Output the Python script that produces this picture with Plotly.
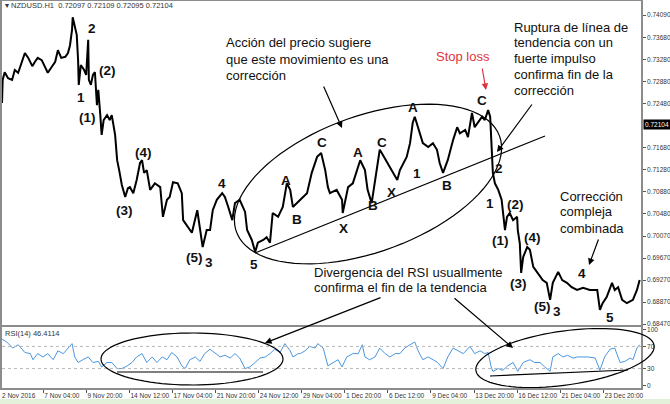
import numpy as np
import plotly.graph_objects as go

W, H = 670, 404
ML, MR, MT, MB = 2, 29, 1, 16
PW, PH = W - ML - MR, H - MT - MB

# ---------------- data ----------------
first_label = "2 Nov 2016"
tick_bars = [64, 128, 192, 256, 320, 384, 448, 512, 576, 640, 704, 768, 832, 896]
tick_labels = ["7 Nov 04:00", "9 Nov 20:00", "14 Nov 12:00", "17 Nov 04:00", "21 Nov 20:00",
               "24 Nov 12:00", "29 Nov 04:00", "1 Dec 20:00", "6 Dec 12:00", "9 Dec 04:00",
               "13 Dec 20:00", "16 Dec 12:00", "21 Dec 04:00", "23 Dec 20:00"]
price_ticks = [0.74090, 0.73680, 0.73280, 0.72880, 0.72480, 0.71680, 0.71280, 0.70880,
               0.70480, 0.70070, 0.69670, 0.69270, 0.68870, 0.68470]
last_price = 0.72104
rsi_ticks = [0, 30, 70, 100]

price_bars = [3, 4, 7, 12, 18, 22, 27, 33, 37, 42,
              48, 52, 56, 62, 67, 71, 77, 82, 86, 91,
              97, 101, 104, 107, 108, 111, 114, 116, 117, 120,
              125, 128, 131, 132, 135, 138, 141, 144, 146, 149,
              151, 154, 159, 163, 166, 171, 174, 177, 181, 186,
              190, 193, 198, 203, 208, 211, 214, 218, 223, 230,
              238, 242, 248, 252, 257, 264, 270, 272, 279, 285,
              293, 297, 301, 307, 312, 316, 322, 330, 334, 339,
              345, 349, 356, 364, 367, 374, 379, 383, 391, 396,
              401, 405, 413, 420, 426, 431, 435, 446, 456, 463,
              471, 477, 483, 487, 490, 500, 508, 509, 517, 524,
              535, 542, 546, 552, 560, 564, 567, 575, 584, 590,
              594, 604, 609, 613, 616, 621, 628, 636, 643, 649,
              653, 658, 665, 673, 679, 683, 691, 695, 701, 705,
              710, 716, 720, 725, 728, 731, 732, 735, 740, 745,
              747, 750, 753, 757, 762, 768, 769, 772, 774, 777,
              783, 787, 792, 799, 806, 812, 817, 821, 829, 835,
              842, 849, 857, 866, 876, 887, 891, 895, 901, 909,
              913, 918, 924, 931, 940, 946, 950]
price_close = [0.7249, 0.7291, 0.7305, 0.7294, 0.7291, 0.7309, 0.7304, 0.7327, 0.7340, 0.7331,
               0.7316, 0.7324, 0.7331, 0.7327, 0.7315, 0.7304, 0.7315, 0.7324, 0.7345, 0.7331,
               0.7333, 0.7340, 0.7354, 0.7382, 0.7405, 0.7391, 0.7373, 0.7327, 0.7282, 0.7318,
               0.7309, 0.7300, 0.7364, 0.7291, 0.7282, 0.7300, 0.7305, 0.7245, 0.7273, 0.7227,
               0.7191, 0.7218, 0.7227, 0.7218, 0.7227, 0.7191, 0.7145, 0.7127, 0.7100, 0.7078,
               0.7094, 0.7096, 0.7085, 0.7109, 0.7140, 0.7145, 0.7122, 0.7127, 0.7091, 0.7103,
               0.7096, 0.7042, 0.7073, 0.7078, 0.7105, 0.7103, 0.7085, 0.7036, 0.7024, 0.7013,
               0.7054, 0.7018, 0.6987, 0.7018, 0.7018, 0.7054, 0.7073, 0.7085, 0.7078, 0.7060,
               0.7036, 0.7067, 0.7073, 0.7051, 0.7018, 0.7000, 0.6978, 0.6995, 0.7000, 0.7005,
               0.6995, 0.7049, 0.7042, 0.7060, 0.7103, 0.7091, 0.7060, 0.7073, 0.7085, 0.7122,
               0.7151, 0.7158, 0.7127, 0.7096, 0.7085, 0.7091, 0.7073, 0.7049, 0.7096, 0.7103,
               0.7145, 0.7127, 0.7091, 0.7067, 0.7133, 0.7164, 0.7158, 0.7140, 0.7122, 0.7109,
               0.7127, 0.7151, 0.7176, 0.7213, 0.7224, 0.7205, 0.7176, 0.7169, 0.7176, 0.7164,
               0.7140, 0.7122, 0.7145, 0.7182, 0.7205, 0.7194, 0.7200, 0.7187, 0.7231, 0.7205,
               0.7213, 0.7224, 0.7218, 0.7236, 0.7224, 0.7151, 0.7122, 0.7103, 0.7091, 0.7073,
               0.7054, 0.7018, 0.7042, 0.7049, 0.7036, 0.7042, 0.7018, 0.6994, 0.6940, 0.6969,
               0.6987, 0.6982, 0.6951, 0.6940, 0.6927, 0.6922, 0.6891, 0.6922, 0.6942, 0.6927,
               0.6922, 0.6914, 0.6909, 0.6913, 0.6909, 0.6909, 0.6873, 0.6885, 0.6896, 0.6922,
               0.6909, 0.6914, 0.6891, 0.6885, 0.6891, 0.6909, 0.6927]

rsi_bars = [3, 10, 19, 27, 37, 45, 49, 56, 64, 71,
            79, 86, 94, 101, 107, 111, 116, 123, 131, 138,
            146, 151, 159, 166, 174, 181, 189, 196, 203, 211,
            218, 226, 233, 241, 248, 255, 263, 270, 275, 282,
            290, 297, 304, 312, 319, 327, 334, 342, 349, 356,
            364, 371, 379, 386, 394, 401, 408, 416, 423, 431,
            435, 443, 446, 453, 460, 468, 472, 480, 487, 495,
            502, 508, 515, 524, 532, 538, 542, 549, 557, 564,
            572, 579, 587, 594, 601, 609, 616, 621, 628, 636,
            643, 650, 658, 665, 673, 680, 688, 698, 705, 713,
            720, 725, 729, 732, 740, 747, 754, 762, 769, 777,
            787, 794, 802, 809, 817, 821, 829, 836, 843, 851,
            858, 866, 873, 884, 891, 898, 906, 913, 921, 928,
            936, 940, 946, 950]
rsi_values = [83, 78, 67, 73, 59, 57, 46, 57, 51, 57,
              46, 62, 57, 67, 75, 51, 41, 46, 51, 41,
              43, 33, 41, 41, 30, 30, 35, 41, 51, 57,
              41, 51, 41, 51, 46, 59, 51, 35, 30, 46,
              51, 43, 57, 65, 59, 51, 54, 49, 57, 49,
              30, 33, 41, 49, 51, 57, 65, 59, 75, 62,
              51, 57, 57, 62, 70, 67, 75, 67, 35, 41,
              46, 33, 51, 57, 57, 73, 51, 46, 51, 67,
              57, 51, 57, 57, 67, 73, 78, 62, 46, 51,
              46, 41, 30, 51, 67, 62, 57, 70, 57, 62,
              57, 59, 35, 25, 30, 27, 35, 41, 25, 41,
              46, 41, 41, 33, 25, 51, 57, 51, 54, 49,
              51, 51, 51, 49, 27, 51, 65, 67, 41, 43,
              49, 46, 67, 73]

# ---------------- helpers (pixel -> paper) ----------------
def X(px):
    return (px - ML) / PW


def Y(py):
    return (H - MB - py) / PH


def ellipse_path(cx, cy, a, b, deg, n=90):
    t = np.linspace(0, 2 * np.pi, n)
    th = np.radians(deg)
    px = cx + a * np.cos(t) * np.cos(th) + b * np.sin(t) * np.sin(th)
    py = cy - a * np.cos(t) * np.sin(th) + b * np.sin(t) * np.cos(th)
    pts = ["%.5f,%.5f" % (X(x), Y(y)) for x, y in zip(px, py)]
    return "M" + " L".join(pts) + " Z"


FONT = "Liberation Sans, Arial, sans-serif"

fig = go.Figure()
fig.add_trace(go.Scatter(x=price_bars, y=price_close, mode="lines",
                         line=dict(color="black", width=2), xaxis="x", yaxis="y",
                         hoverinfo="skip"))
fig.add_trace(go.Scatter(x=rsi_bars, y=rsi_values, mode="lines",
                         line=dict(color="#4a97e0", width=1), xaxis="x2", yaxis="y2",
                         hoverinfo="skip"))

axis_line = "#8c8c8c"
tickfont = dict(family=FONT, size=6.5, color="#333333")

main_dom = [Y(325), Y(1)]
rsi_dom = [Y(388), Y(327)]
p_top = 0.74090 + 14 * 0.004 / 22
p_bot = 0.74090 - 310 * 0.004 / 22

common = dict(showline=True, mirror=True, linecolor=axis_line, linewidth=1.5,
              showgrid=False, zeroline=False, automargin=False)
fig.update_layout(
    width=W, height=H, autosize=False,
    margin=dict(l=ML, r=MR, t=MT, b=MB, pad=0),
    paper_bgcolor="white", plot_bgcolor="white", showlegend=False,
    xaxis=dict(domain=[0, 1], range=[3, 952], anchor="y", showticklabels=False, ticks="", **common),
    xaxis2=dict(domain=[0, 1], range=[3, 952], anchor="y2", matches="x",
                tickvals=tick_bars, ticktext=tick_labels, ticks="outside", ticklen=3,
                tickcolor="#555", ticklabelposition="outside right", tickangle=0,
                tickfont=tickfont, **common),
    yaxis=dict(domain=main_dom, range=[p_bot, p_top], side="right", anchor="x",
               tickvals=price_ticks, ticktext=["%.5f" % v for v in price_ticks],
               ticks="outside", ticklen=3, tickcolor="#555", tickfont=tickfont, **common),
    yaxis2=dict(domain=rsi_dom, range=[-5, 105], side="right", anchor="x2",
                tickvals=rsi_ticks, ticktext=[str(v) for v in rsi_ticks],
                ticks="outside", ticklen=3, tickcolor="#555", tickfont=tickfont, **common),
)

shapes = []
for lvl in (70, 30):
    shapes.append(dict(type="line", xref="x2 domain", yref="y2", x0=0, x1=1, y0=lvl, y1=lvl,
                       line=dict(color="#b8b8b8", width=1, dash="dot")))
shapes.append(dict(type="rect", xref="paper", yref="paper", x0=X(0), x1=X(670), y0=Y(399), y1=Y(405),
                   fillcolor="#e3f1da", line=dict(width=0), layer="below"))
shapes.append(dict(type="path", xref="paper", yref="paper", path=ellipse_path(368, 184, 140, 68, 20),
                   line=dict(color="black", width=1.2)))
shapes.append(dict(type="path", xref="paper", yref="paper", path=ellipse_path(192, 359, 91, 26, 0),
                   line=dict(color="black", width=1.2)))
shapes.append(dict(type="path", xref="paper", yref="paper", path=ellipse_path(565, 358, 90, 27, 8),
                   line=dict(color="black", width=1.2)))
for (x0, y0, x1, y1) in [(255, 253, 545, 136), (117, 372, 263, 372), (490, 376, 628, 370)]:
    shapes.append(dict(type="line", xref="paper", yref="paper", x0=X(x0), y0=Y(y0), x1=X(x1), y1=Y(y1),
                       line=dict(color="black", width=1.2)))
fig.update_layout(shapes=shapes)

ann = []
ann.append(dict(text="▾ NZDUSD.H1  0.72097 0.72109 0.72095 0.72104", x=X(3), y=Y(6), xref="paper", yref="paper",
                xanchor="left", yanchor="middle", showarrow=False, font=dict(family=FONT, size=7.5, color="#333")))
ann.append(dict(text="RSI(14) 46.4114", x=X(3), y=Y(333), xref="paper", yref="paper",
                xanchor="left", yanchor="middle", showarrow=False, font=dict(family=FONT, size=7.5, color="#333")))
ann.append(dict(text=first_label, x=X(0), y=Y(395), xref="paper", yref="paper", xanchor="left", yanchor="middle",
                showarrow=False, font=tickfont))
ann.append(dict(text="0.72104", x=1.0, y=last_price, xref="paper", yref="y", xanchor="left", yanchor="middle",
                xshift=2, showarrow=False, bgcolor="black", borderpad=1,
                font=dict(family=FONT, size=6.5, color="white")))

waves = [("2", 92, 29), ("1", 81, 97), ("(2)", 107, 71), ("(1)", 87, 117), ("(4)", 143, 153),
         ("(3)", 124, 210), ("4", 222, 184), ("(5)", 194, 257), ("3", 209, 262), ("5", 254, 264),
         ("A", 286, 180), ("B", 297, 219), ("C", 322, 143), ("X", 343, 228), ("A", 358, 152),
         ("B", 373, 205), ("C", 382, 143), ("X", 391, 192), ("1", 417, 173), ("A", 413, 108),
         ("B", 447, 185), ("C", 482, 100), ("2", 499, 168), ("1", 490, 203), ("(2)", 515, 204),
         ("(1)", 501, 240), ("(4)", 532, 237), ("(3)", 518, 283), ("(5)", 542, 306), ("3", 557, 311),
         ("4", 582, 273), ("5", 610, 317)]
for t, px, py in waves:
    ann.append(dict(text="<b>%s</b>" % t, x=X(px), y=Y(py), xref="paper", yref="paper",
                    xanchor="center", yanchor="middle", showarrow=False,
                    font=dict(family=FONT, size=13.5, color="#111")))

blocks = [
    (["Acción del precio sugiere", "que este movimiento es una", "corrección"], 224, 43, 16),
    (["Ruptura de línea de", "tendencia con un", "fuerte impulso", "confirma fin de la", "corrección"],
     512, 27, 15.8),
    (["Corrección", "compleja", "combinada"], 558, 196, 16),
    (["Divergencia del RSI usuallmente", "confirma el fin de la tendencia"], 312, 272, 15),
]
for lines, px, py0, dy in blocks:
    for i, line in enumerate(lines):
        ann.append(dict(text=line, x=X(px), y=Y(py0 + i * dy), xref="paper", yref="paper",
                        xanchor="left", yanchor="middle", showarrow=False,
                        font=dict(family=FONT, size=13, color="#111")))
ann.append(dict(text="Stop loss", x=X(463), y=Y(57), xref="paper", yref="paper", xanchor="center",
                yanchor="middle", showarrow=False, font=dict(family=FONT, size=13, color="#e0343c")))

arrows = [((323, 85), (342, 128), "black"), ((533, 103), (497, 152), "black"),
          ((482, 67), (486, 90), "#e0343c"), ((599, 238), (589, 265), "black"),
          ((382, 297), (265, 343), "black"), ((453, 297), (513, 348), "black")]
for (tx, ty), (hx, hy), col in arrows:
    ann.append(dict(text="", x=X(hx), y=Y(hy), xref="paper", yref="paper", ax=tx - hx, ay=ty - hy,
                    axref="pixel", ayref="pixel", showarrow=True, arrowhead=2, arrowsize=1.1,
                    arrowwidth=1.2, arrowcolor=col, standoff=0, startstandoff=0))
fig.update_layout(annotations=ann)

fig.write_html("out.html", config={"displayModeBar": False},
               post_script="document.body.style.margin='0';document.body.style.overflow='hidden';")
